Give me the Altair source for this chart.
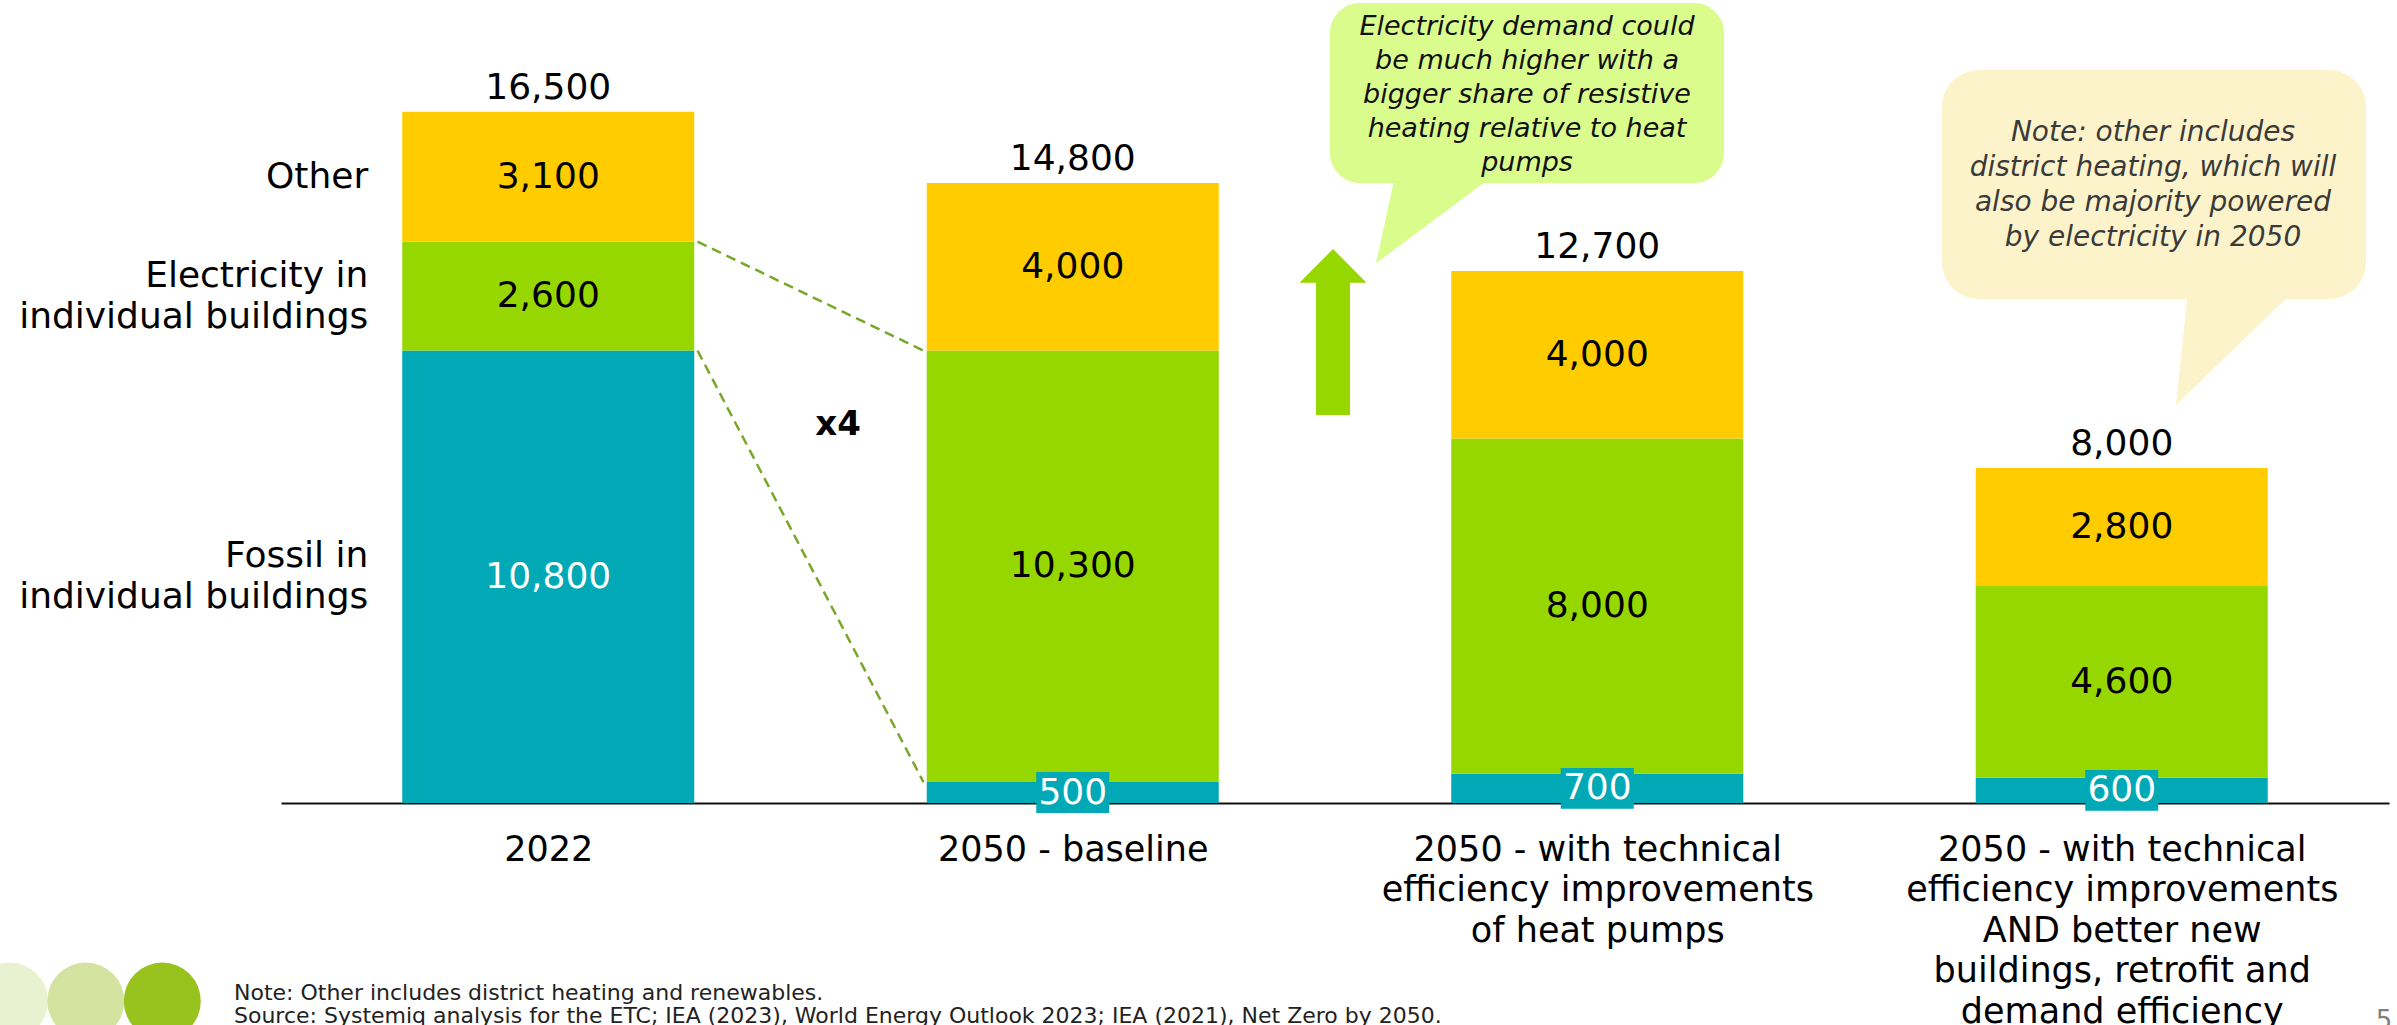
import json

import altair as alt
import pandas as pd

# ---------------------------------------------------------------- data
CATEGORY_LINES = [
    ["2022"],
    ["2050 - baseline"],
    ["2050 - with technical", "efficiency improvements", "of heat pumps"],
    ["2050 - with technical", "efficiency improvements", "AND better new",
     "buildings, retrofit and", "demand efficiency"],
]
SERIES = ["Fossil in individual buildings", "Electricity in individual buildings", "Other"]
SERIES_LABELS = ["Fossil in\nindividual buildings", "Electricity in\nindividual buildings", "Other"]
FOSSIL = [10800, 500, 700, 600]
ELECTRICITY = [2600, 10300, 8000, 4600]
OTHER = [3100, 4000, 4000, 2800]
TOTALS = [16500, 14800, 12700, 8000]

COLORS = ["#00A9B5", "#97D700", "#FFCC00"]
FONT = "DejaVu Sans"

CALLOUT_DEMAND = ("Electricity demand could\nbe much higher with a\nbigger share of resistive\n"
                  "heating relative to heat\npumps")
CALLOUT_NOTE = ("Note: other includes\ndistrict heating, which will\nalso be majority powered\n"
                "by electricity in 2050")
FOOTNOTE = ("Note: Other includes district heating and renewables.\n"
            "Source: Systemiq analysis for the ETC; IEA (2023), World Energy Outlook 2023; "
            "IEA (2021), Net Zero by 2050.")

# ---------------------------------------------------------------- layout
W, H = 2108, 803          # plot area
LEFT = 281                # room for the series labels
STEP = W / 4              # px per category slot
BAR_W = 292               # bar width in px
LABEL_LH = 41             # line height of the series labels

# ---------------------------------------------------------------- tables
rows = []
for i in range(len(CATEGORY_LINES)):
    base = 0
    for s, lab, vals in zip(SERIES, SERIES_LABELS, [FOSSIL, ELECTRICITY, OTHER]):
        v = vals[i]
        rows.append(dict(idx=i, series=s, legend=lab, multiline=("\n" in lab),
                         value=v, y0=base, y1=base + v, mid=base + v / 2,
                         label=f"{v:,}", light=(s == SERIES[0]),
                         boxed=(s == SERIES[0] and v < 1500)))
        base += v
stack = pd.DataFrame(rows)
totals = pd.DataFrame(dict(idx=range(len(TOTALS)), total=TOTALS,
                           label=[f"{t:,}" for t in TOTALS]))

# dashed connectors between the electricity band of 2022 and 2050 baseline
gap = (BAR_W / 2 + 4) / STEP
connectors = pd.DataFrame([
    dict(idx=0 + gap, idx_end=1 - gap,
         y=FOSSIL[0] + ELECTRICITY[0], y_end=FOSSIL[1] + ELECTRICITY[1]),
    dict(idx=0 + gap, idx_end=1 - gap, y=FOSSIL[0], y_end=FOSSIL[1]),
])

# ---------------------------------------------------------------- scales / encodings
x_scale = alt.Scale(domain=[-0.5, 3.5], nice=False, zero=False)
y_scale = alt.Scale(domain=[0, 19170], nice=False, zero=True)
x_axis = alt.Axis(
    values=[0, 1, 2, 3], labelExpr=f"{json.dumps(CATEGORY_LINES)}[datum.value]",
    title=None, grid=False, ticks=False, tickSize=0, domain=True,
    domainColor="#111111", domainWidth=2, labelFont=FONT, labelFontSize=35,
    labelLineHeight=40.5, labelColor="#000000", labelPadding=29, labelLimit=0,
    labelOverlap=False, labelBound=False, labelFlush=False,
)
X = alt.X("idx:Q", scale=x_scale, axis=x_axis)


def Y(field):
    return alt.Y(field, scale=y_scale, axis=None)


one = pd.DataFrame({"k": [0]})

# ---------------------------------------------------------------- data marks
bars = alt.Chart(stack).mark_bar(size=BAR_W).encode(
    x=X, y=Y("y0:Q"), y2="y1:Q",
    color=alt.Color("series:N", scale=alt.Scale(domain=SERIES, range=COLORS), legend=None),
)

links = alt.Chart(connectors).mark_rule(
    strokeDash=[10, 6], strokeWidth=2.5, color="#79A72A"
).encode(x=X, x2="idx_end:Q", y=Y("y:Q"), y2="y_end:Q")

BOX = "M-1,-0.56H1V0.56H-1Z"
boxes = alt.Chart(stack).transform_filter("datum.boxed").mark_point(
    shape=BOX, filled=True, opacity=1, strokeWidth=0, size=73 ** 2, color=COLORS[0]
).encode(x=X, y=Y("mid:Q"))

seg_labels = alt.Chart(stack).mark_text(font=FONT, fontSize=36, baseline="middle").encode(
    x=X, y=Y("mid:Q"), text="label:N",
    color=alt.condition("datum.light", alt.value("#FFFFFF"), alt.value("#000000")),
)

total_labels = alt.Chart(totals).mark_text(
    font=FONT, fontSize=36, baseline="alphabetic", dy=-13, color="#000000"
).encode(x=X, y=Y("total:Q"), text="label:N")


def series_label_layer(multiline):
    # two-line labels are lifted by half a line so the block centres on its band
    return alt.Chart(stack).transform_filter(
        f"datum.idx == 0 && datum.multiline == {str(multiline).lower()}"
    ).mark_text(
        font=FONT, fontSize=36, align="right", baseline="middle", lineBreak="\n",
        lineHeight=LABEL_LH, dx=-(BAR_W / 2 + 34),
        dy=-LABEL_LH / 2 if multiline else 0, color="#000000"
    ).encode(x=X, y=Y("mid:Q"), text="legend:N")


series_single = series_label_layer(False)
series_multi = series_label_layer(True)

# ---------------------------------------------------------------- annotations (pixels)
times4 = alt.Chart(one).mark_text(
    font=FONT, fontSize=34, fontWeight="bold", text="x4", color="#000000"
).encode(x=alt.value(838 - LEFT), y=alt.value(425))

ARROW = "M0,-1L0.404,-0.594L0.205,-0.594L0.205,1L-0.205,1L-0.205,-0.594L-0.404,-0.594Z"
arrow = alt.Chart(one).mark_point(
    shape=ARROW, filled=True, opacity=1, strokeWidth=0, size=166 ** 2, color=COLORS[1]
).encode(x=alt.value(1333 - LEFT), y=alt.value(332))

bubble1 = alt.Chart(one).mark_rect(cornerRadius=30, color="#DAFC8C").encode(
    x=alt.value(1330 - LEFT), x2=alt.value(1724 - LEFT), y=alt.value(3), y2=alt.value(183))
tail1 = alt.Chart(one).mark_point(
    shape="M-0.72,-0.88L1.24,-0.88L-1.1,0.866Z", filled=True, opacity=1, strokeWidth=0,
    size=100 ** 2, color="#DAFC8C"
).encode(x=alt.value(1150), y=alt.value(220))
text1 = alt.Chart(one).mark_text(
    font=FONT, fontSize=27, fontStyle="italic", lineBreak="\n", lineHeight=34,
    align="center", baseline="middle", color="#111111", text=CALLOUT_DEMAND
).encode(x=alt.value(1527 - LEFT), y=alt.value(27))

bubble2 = alt.Chart(one).mark_rect(cornerRadius=37, color="#FDF3CB").encode(
    x=alt.value(1942 - LEFT), x2=alt.value(2366 - LEFT), y=alt.value(70), y2=alt.value(299))
tail2 = alt.Chart(one).mark_point(
    shape="M-0.8,-1L0.983,-1L-1,0.917Z", filled=True, opacity=1, strokeWidth=0,
    size=120 ** 2, color="#FDF3CB"
).encode(x=alt.value(1955), y=alt.value(350))
text2 = alt.Chart(one).mark_text(
    font=FONT, fontSize=28, fontStyle="italic", lineBreak="\n", lineHeight=35,
    align="center", baseline="middle", color="#3A3A3A", text=CALLOUT_NOTE
).encode(x=alt.value(2153 - LEFT), y=alt.value(133))

logo_df = pd.DataFrame(dict(cx=[9.5 - LEFT, 85.8 - LEFT, 162.3 - LEFT],
                            fill=["#E8F1D0", "#D5E3A1", "#98C21E"]))
logo = alt.Chart(logo_df).mark_point(
    shape="circle", filled=True, opacity=1, strokeWidth=0, size=77 ** 2
).encode(x=alt.X("cx:Q", scale=None, axis=None), y=alt.value(1001),
         color=alt.Color("fill:N", scale=None))

footnote = alt.Chart(one).mark_text(
    font=FONT, fontSize=22, lineBreak="\n", lineHeight=23, align="left",
    baseline="middle", color="#222222", text=FOOTNOTE
).encode(x=alt.value(234 - LEFT), y=alt.value(993))

page_no = alt.Chart(one).mark_text(
    font=FONT, fontSize=26, align="center", baseline="middle", color="#7F7F7F", text="5"
).encode(x=alt.value(2384 - LEFT), y=alt.value(1021))

chart = alt.layer(
    bars, links, boxes, seg_labels, total_labels, series_single, series_multi,
    times4, arrow, bubble1, tail1, text1, bubble2, tail2, text2,
    logo, footnote, page_no,
).properties(
    width=W, height=H,
    autosize=alt.AutoSizeParams(type="none"),
    padding={"left": LEFT, "top": 0, "right": 2397 - LEFT - W, "bottom": 1025 - H},
    background="#FFFFFF",
).configure_view(stroke=None)

chart.save("out.html", embed_options={"renderer": "svg", "actions": False})
